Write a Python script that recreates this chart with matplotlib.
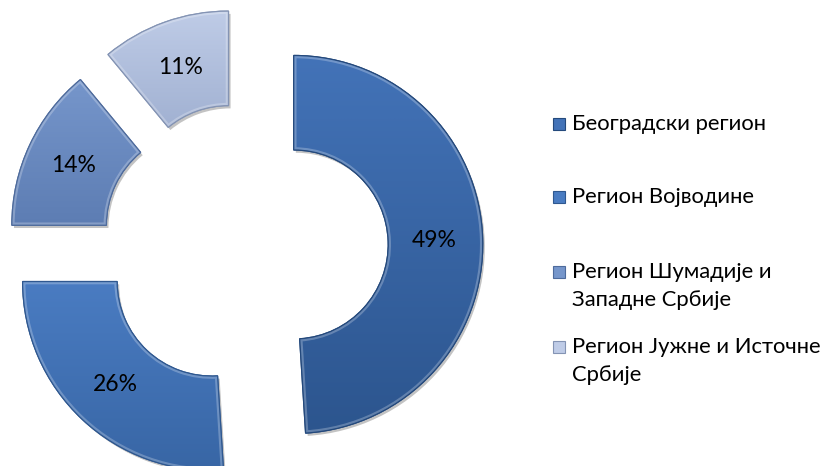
import numpy as np
import matplotlib.pyplot as plt
from matplotlib.patches import Rectangle, PathPatch
from matplotlib.colors import LinearSegmentedColormap
from matplotlib import patheffects as pe

regions = ["Београдски регион",
           "Регион Војводине",
           "Регион Шумадије и\nЗападне Србије",
           "Регион Јужне и Источне\nСрбије"]
shares = [49, 26, 14, 11]
top_colors = ["#4373b8", "#4a7cc2", "#7696cb", "#bfcce7"]
bottom_colors = ["#2c558e", "#3866a5", "#5d7db3", "#a1b1d2"]
edge_colors = ["#24497c", "#2f5890", "#4e6b9c", "#8494b4"]

plt.rcParams['font.family'] = ['Lato', 'DejaVu Sans']

W, H = 827, 466
fig = plt.figure(figsize=(W / 100, H / 100), dpi=100)
ax = fig.add_axes([0, 0, 1, 1])

# ring geometry in pixels: radius and centre (from top-left)
R = 189.0
cx, cy = 245.0, 246.0

wedges, texts, pcts = ax.pie(
    shares, radius=1, startangle=90, counterclock=False,
    explode=[0.258] * len(shares),
    wedgeprops=dict(width=0.5, linewidth=0.9),
    autopct='%d%%', pctdistance=0.745,
    textprops=dict(fontsize=16.5, color='black'))

for i, w in enumerate(wedges):
    w.set_facecolor(bottom_colors[i])
    w.set_edgecolor(edge_colors[i])
    w.set_zorder(2)
    w.set_path_effects([pe.SimplePatchShadow(offset=(1.5, -2), alpha=0.35, shadow_rgbFace='#555555'),
                        pe.Normal()])
    # vertical shading inside the segment
    ext = w.get_path().get_extents()
    cmap = LinearSegmentedColormap.from_list('g%d' % i, [bottom_colors[i], top_colors[i]])
    grad = np.linspace(0, 1, 256).reshape(-1, 1)
    im = ax.imshow(grad, extent=[ext.x0, ext.x1, ext.y0, ext.y1], origin='lower',
                   cmap=cmap, aspect='auto', zorder=2.1, interpolation='bilinear')
    im.set_clip_path(w)
    # soft bevel along the outline
    hl = PathPatch(w.get_path(), facecolor='none', edgecolor='white', alpha=0.25,
                   linewidth=4, zorder=2.2)
    ax.add_patch(hl)
    hl.set_clip_path(w)
    rim = PathPatch(w.get_path(), facecolor='none', edgecolor=edge_colors[i],
                    linewidth=0.9, zorder=2.3)
    ax.add_patch(rim)

for t in pcts:
    t.set_zorder(5)

ax.set_aspect('auto')
ax.set_xlim(-cx / R, (W - cx) / R)
ax.set_ylim(-(H - cy) / R, cy / R)
ax.axis('off')

# legend drawn at the right side
key_x = 553
text_x = 572
line_h = 28
item_y = [124, 197, 272, 347]
for i, label in enumerate(regions):
    y = item_y[i]
    key = Rectangle((key_x / W, 1 - (y + 6) / H), 12 / W, 12 / H,
                    transform=fig.transFigure, facecolor=top_colors[i],
                    edgecolor=edge_colors[i], linewidth=0.8)
    fig.add_artist(key)
    for j, line in enumerate(label.split('\n')):
        fig.text(text_x / W, 1 - (y + j * line_h) / H, line,
                 va='center', ha='left', fontsize=15.8)

fig.savefig('out.png', dpi=100)
